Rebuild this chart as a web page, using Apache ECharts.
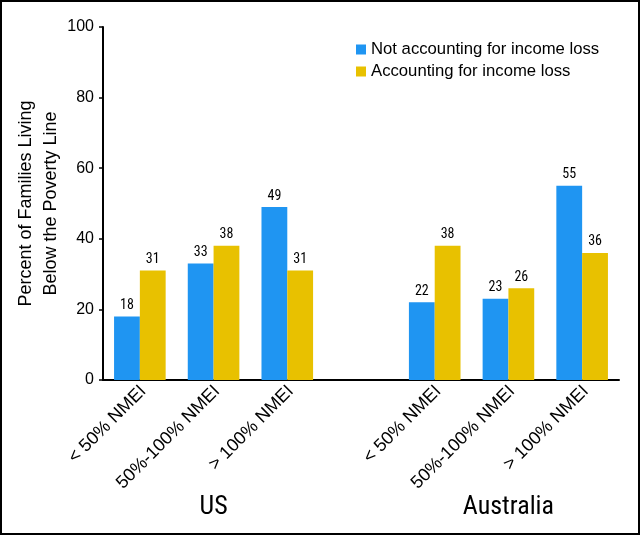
<!DOCTYPE html>
<html>
<head>
<meta charset="utf-8">
<script src="https://cdn.jsdelivr.net/npm/echarts@6/dist/echarts.min.js"></script>
<style>
html,body{margin:0;padding:0;background:#fff;}
#chart{position:absolute;left:0;top:0;width:640px;height:535px;}
#frame{position:absolute;left:0;top:0;width:640px;height:535px;box-sizing:border-box;border:2px solid #000;pointer-events:none;}
</style>
</head>
<body>
<div id="chart"></div>
<div id="frame"></div>
<script>
// Data
const categories = ['< 50% NMEI', '50%-100% NMEI', '> 100% NMEI', '', '< 50% NMEI', '50%-100% NMEI', '> 100% NMEI'];
const groupLabels = ['', 'US', '', '', '', 'Australia', ''];
const seriesNames = ['Not accounting for income loss', 'Accounting for income loss'];
const notAccounting = [18, 33, 49, '-', 22, 23, 55];
const accounting = [31, 38, 31, '-', 38, 26, 36];
const yTicks = [0, 20, 40, 60, 80, 100];

const BLUE = '#1f95f2';
const GOLD = '#e8c100';
const FONT = "'Liberation Sans', Arial, sans-serif";
const NARROW = "'Roboto Condensed', 'DejaVu Sans Condensed', sans-serif";

const chart = echarts.init(document.getElementById('chart'), null, {renderer: 'canvas'});
const labelCfg = {
  show: true, position: 'top', distance: 4,
  fontFamily: NARROW, fontSize: 14, color: '#000'
};
chart.setOption({
  backgroundColor: '#fff',
  animation: false,
  grid: {left: 103, right: 21, top: 27, bottom: 155, containLabel: false},
  legend: {
    orient: 'vertical', left: 351, top: 36,
    itemWidth: 10, itemHeight: 10, itemGap: 5, icon: 'rect',
    textStyle: {fontFamily: FONT, fontSize: 16.7, color: '#000', lineHeight: 16},
    data: seriesNames
  },
  xAxis: [{
    type: 'category', data: categories, position: 'bottom',
    axisLine: {show: true, onZero: false, lineStyle: {color: '#000', width: 2}},
    axisTick: {show: false},
    axisLabel: {interval: 0, rotate: 45, margin: 12, padding: [10, -5, 0, 0], fontFamily: FONT, fontSize: 18, color: '#000'},
    splitLine: {show: false}
  }, {
    type: 'category', data: groupLabels, position: 'bottom', offset: 106,
    axisLine: {show: false}, axisTick: {show: false}, splitLine: {show: false},
    axisLabel: {interval: 0, margin: 8, fontFamily: NARROW, fontSize: 26, color: '#000'}
  }],
  yAxis: {
    type: 'value', min: yTicks[0], max: yTicks[yTicks.length - 1], interval: 20,
    name: 'Percent of Families Living\nBelow the Poverty Line',
    nameLocation: 'middle', nameGap: 40, nameRotate: 90, nameMoveOverlap: false,
    nameTextStyle: {fontFamily: FONT, fontSize: 18, color: '#000', lineHeight: 24.5},
    axisLine: {show: true, lineStyle: {color: '#000', width: 2}},
    axisTick: {show: true, inside: false, length: 4, lineStyle: {color: '#000', width: 1.5}},
    axisLabel: {margin: 9, fontFamily: FONT, fontSize: 16, color: '#000'},
    splitLine: {show: false}
  },
  series: [{
    name: seriesNames[0], type: 'bar', data: notAccounting, xAxisIndex: 0,
    itemStyle: {color: BLUE}, barGap: '0%', barCategoryGap: '30%',
    label: labelCfg
  }, {
    name: seriesNames[1], type: 'bar', data: accounting, xAxisIndex: 0,
    itemStyle: {color: GOLD}, barGap: '0%', barCategoryGap: '30%',
    label: labelCfg
  }]
});
</script>
</body>
</html>
